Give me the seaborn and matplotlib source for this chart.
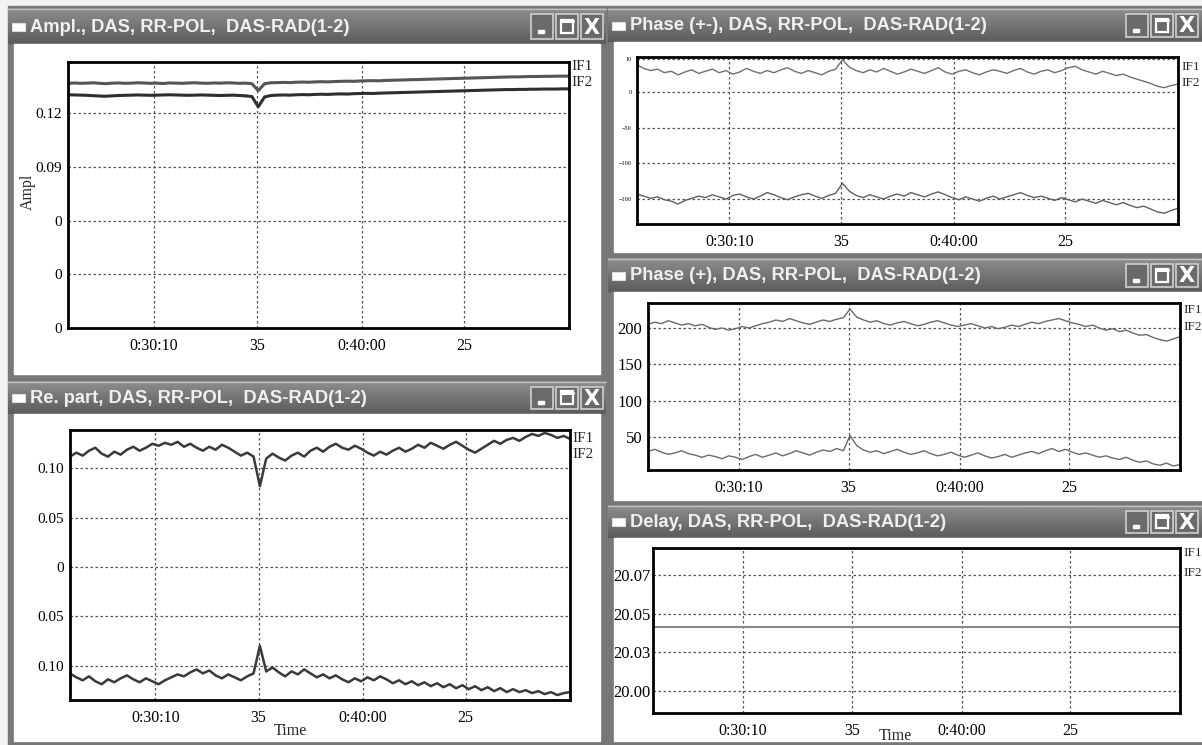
import numpy as np
import matplotlib
matplotlib.use("Agg")
import matplotlib.pyplot as plt
import seaborn as sns
from matplotlib.patches import Rectangle

# shared time axis: sample number, tick positions and labels
time_idx = list(range(80))
tick_pos = [13.5, 29.8, 46.3, 62.5]
tick_labels = ["0:30:10", "35", "0:40:00", "25"]

# Ampl. panel
ampl_if1 = [0.1365, 0.1368, 0.1366, 0.1367, 0.1369, 0.1366, 0.1364, 0.1367, 0.1368, 0.1366,
            0.1367, 0.1369, 0.1368, 0.1366, 0.1367, 0.1365, 0.1368, 0.1367, 0.1366, 0.1368,
            0.1369, 0.1367, 0.1366, 0.1368, 0.1367, 0.1369, 0.1368, 0.1366, 0.1367, 0.1364,
            0.1325, 0.1364, 0.1369, 0.1370, 0.1371, 0.1370, 0.1372, 0.1373, 0.1372, 0.1374,
            0.1375, 0.1374, 0.1376, 0.1377, 0.1378, 0.1377, 0.1379, 0.1380, 0.1381, 0.1380,
            0.1382, 0.1383, 0.1384, 0.1385, 0.1386, 0.1387, 0.1388, 0.1389, 0.1390, 0.1391,
            0.1392, 0.1393, 0.1394, 0.1395, 0.1396, 0.1397, 0.1398, 0.1399, 0.1400, 0.1401,
            0.1402, 0.1402, 0.1403, 0.1404, 0.1404, 0.1405, 0.1405, 0.1406, 0.1406, 0.1406]
ampl_if2 = [0.1302, 0.1301, 0.1300, 0.1299, 0.1297, 0.1295, 0.1294, 0.1296, 0.1298, 0.1299,
            0.1300, 0.1301, 0.1300, 0.1299, 0.1300, 0.1301, 0.1302, 0.1301, 0.1300, 0.1299,
            0.1300, 0.1301, 0.1300, 0.1299, 0.1298, 0.1299, 0.1300, 0.1298, 0.1296, 0.1292,
            0.1235, 0.1290, 0.1298, 0.1300, 0.1301, 0.1300, 0.1302, 0.1303, 0.1302, 0.1304,
            0.1305, 0.1304, 0.1306, 0.1307, 0.1306, 0.1308, 0.1309, 0.1310, 0.1309, 0.1311,
            0.1312, 0.1313, 0.1314, 0.1315, 0.1316, 0.1317, 0.1318, 0.1319, 0.1320, 0.1321,
            0.1322, 0.1323, 0.1324, 0.1325, 0.1326, 0.1327, 0.1328, 0.1329, 0.1330, 0.1331,
            0.1331, 0.1332, 0.1332, 0.1333, 0.1333, 0.1334, 0.1334, 0.1334, 0.1335, 0.1335]
ampl_yticks = [0.12, 0.09, 0.06, 0.03, 0.0]
ampl_ylabels = ["0.12", "0.09", "0", "0", "0"]

# Re. part panel
re_if1 = [0.112, 0.116, 0.113, 0.118, 0.121, 0.115, 0.112, 0.117, 0.114, 0.119,
          0.122, 0.118, 0.121, 0.125, 0.123, 0.126, 0.124, 0.127, 0.122, 0.125,
          0.121, 0.118, 0.122, 0.119, 0.124, 0.121, 0.117, 0.113, 0.116, 0.112,
          0.082, 0.110, 0.115, 0.111, 0.108, 0.113, 0.116, 0.112, 0.118, 0.121,
          0.117, 0.122, 0.125, 0.121, 0.119, 0.123, 0.120, 0.116, 0.113, 0.117,
          0.114, 0.118, 0.121, 0.117, 0.120, 0.124, 0.121, 0.126, 0.123, 0.120,
          0.124, 0.127, 0.123, 0.119, 0.116, 0.120, 0.124, 0.128, 0.125, 0.129,
          0.131, 0.128, 0.132, 0.135, 0.133, 0.136, 0.134, 0.131, 0.133, 0.130]
re_if2 = [-0.108, -0.112, -0.115, -0.111, -0.116, -0.119, -0.114, -0.117, -0.113, -0.110,
          -0.114, -0.117, -0.113, -0.116, -0.119, -0.115, -0.112, -0.109, -0.111, -0.107,
          -0.104, -0.108, -0.105, -0.110, -0.113, -0.109, -0.112, -0.115, -0.111, -0.108,
          -0.080, -0.106, -0.102, -0.107, -0.111, -0.106, -0.109, -0.104, -0.108, -0.112,
          -0.109, -0.113, -0.110, -0.114, -0.117, -0.113, -0.116, -0.112, -0.115, -0.111,
          -0.114, -0.118, -0.115, -0.119, -0.116, -0.120, -0.117, -0.121, -0.118, -0.122,
          -0.119, -0.123, -0.120, -0.124, -0.121, -0.125, -0.122, -0.126, -0.123, -0.127,
          -0.124, -0.127, -0.125, -0.128, -0.126, -0.129, -0.127, -0.130, -0.128, -0.127]
re_yticks = [0.10, 0.05, 0.0, -0.05, -0.10]
re_ylabels = ["0.10", "0.05", "0", "0.05", "0.10"]

# Phase (+-) panel
pm_if1 = [38, 33, 30, 32, 27, 29, 24, 28, 31, 26,
          29, 32, 27, 30, 25, 28, 33, 29, 26, 30,
          27, 31, 34, 29, 26, 30, 27, 24, 29, 32,
          45, 35, 30, 27, 31, 28, 33, 29, 25, 28,
          32, 29, 26, 30, 34, 28, 25, 29, 31, 27,
          24, 28, 31, 29, 26, 30, 33, 28, 25, 29,
          31, 27, 30, 34, 36, 31, 28, 25, 29, 26,
          23, 25, 21, 18, 15, 12, 8, 6, 9, 11]
pm_if2 = [-143, -146, -149, -147, -151, -153, -157, -152, -149, -146,
          -148, -144, -147, -150, -145, -143, -147, -150, -146, -141,
          -144, -148, -151, -147, -144, -142, -146, -149, -145, -142,
          -128, -139, -145, -148, -144, -147, -150, -146, -143, -146,
          -141, -144, -147, -143, -140, -144, -148, -151, -147, -150,
          -153, -149, -146, -150, -147, -144, -141, -145, -148, -146,
          -149, -152, -148, -151, -154, -150, -153, -156, -152, -155,
          -158, -155, -159, -162, -160, -164, -168, -170, -166, -163]
pm_yticks = [46, 0, -50, -100, -150]
pm_ylabels = ["10", "0", "\u221250", "\u2212100", "\u2212100"]

# Phase (+) panel
p_if1 = [205, 208, 206, 210, 207, 204, 206, 203, 205, 201,
         198, 200, 197, 199, 202, 200, 203, 206, 208, 211,
         209, 213, 210, 207, 205, 208, 211, 209, 212, 214,
         226, 215, 211, 208, 210, 206, 204, 207, 209, 206,
         203, 205, 208, 210, 207, 204, 202, 204, 206, 203,
         200, 202, 199, 201, 204, 202, 205, 208, 206, 209,
         211, 213, 210, 207, 205, 202, 204, 200, 197, 199,
         195, 197, 193, 190, 191, 187, 184, 182, 185, 188]
p_if2 = [30, 33, 29, 26, 28, 31, 27, 25, 22, 25,
         23, 20, 24, 22, 19, 23, 26, 22, 25, 28,
         24, 27, 31, 28, 25, 29, 32, 30, 34, 31,
         52, 38, 32, 29, 31, 27, 30, 33, 29, 26,
         28, 31, 27, 24, 26, 29, 25, 22, 25, 28,
         24, 21, 23, 26, 22, 25, 28, 30, 27, 31,
         34, 30, 33, 29, 26, 28, 25, 22, 24, 21,
         19, 22, 18, 15, 17, 13, 11, 14, 10, 12]
p_yticks = [200, 150, 100, 50]
p_ylabels = ["200", "150", "100", "50"]

# Delay panel
delay_t = [0, 79]
delay_val = [20.043, 20.043]
delay_yticks = [20.07, 20.05, 20.03, 20.01]
delay_ylabels = ["20.07", "20.05", "20.03", "20.00"]

sns.set_theme(style="white")
plt.rcParams["font.family"] = ["Liberation Serif", "DejaVu Serif"]

W, H = 1202, 745
fig = plt.figure(figsize=(W / 100, H / 100), dpi=100)
fig.patch.set_facecolor("#f2f2f2")

# background axes in pixel units for the window chrome
bg = fig.add_axes([0, 0, 1, 1], zorder=0)
bg.axis("off")
bg.add_patch(Rectangle((8, 6), W - 8, H - 6, color="#777777", zorder=0))


def bar_gradient(top, bottom):
    c0 = np.array(matplotlib.colors.to_rgb(top))
    c1 = np.array(matplotlib.colors.to_rgb(bottom))
    f = np.linspace(0, 1, 32)[:, None, None]
    return c0 * (1 - f) + c1 * f


def window(x0, x1, y0, ybar, y1, title):
    # title bar
    bg.imshow(bar_gradient("#8e8e8e", "#5c5c5c"), extent=(x0, x1, ybar, y0),
              aspect="auto", zorder=1, interpolation="bilinear")
    bg.plot([x0, x1], [y0 + 0.5, y0 + 0.5], color="#c0c0c0", lw=1, zorder=2)
    # content area
    bg.add_patch(Rectangle((x0 + 6, ybar), x1 - x0 - 12, y1 - ybar, color="white", zorder=1))
    # small icon and caption
    yc = (y0 + ybar) / 2 + 1
    bg.add_patch(Rectangle((x0 + 4, yc - 4.5), 13, 8, facecolor="white",
                           edgecolor="#dddddd", lw=0.8, zorder=2))
    bg.text(x0 + 22, yc, title, color="#f0f0f0", fontsize=13.2, fontweight="bold",
            family=["Liberation Sans Narrow", "Liberation Sans", "DejaVu Sans"],
            va="center", ha="left", zorder=3)
    # minimise / maximise / close buttons
    bw, gap = 22, 3
    bx = x1 - 3 - 3 * bw - 2 * gap
    if x1 >= W:
        bx = W - 4 - 3 * bw - 2 * gap
    for k in range(3):
        xb = bx + k * (bw + gap)
        bg.add_patch(Rectangle((xb, y0 + 6), bw, ybar - y0 - 11, facecolor="#6a6a6a",
                               edgecolor="#d0d0d0", lw=1.2, zorder=2))
        cx, cy = xb + bw / 2, y0 + 6 + (ybar - y0 - 11) / 2
        if k == 0:
            bg.add_patch(Rectangle((cx - 4, cy + 3), 6, 3, color="white", zorder=3))
        elif k == 1:
            bg.add_patch(Rectangle((cx - 6, cy - 7), 12, 13, facecolor="none",
                                   edgecolor="white", lw=1.6, zorder=3))
            bg.plot([cx - 6, cx + 6], [cy - 5.5, cy - 5.5], color="white", lw=2.2, zorder=3)
        else:
            bg.text(cx, cy + 1, "X", color="white", fontsize=15, fontweight="bold",
                    family="DejaVu Sans", ha="center", va="center", zorder=3)


window(8, 606, 8, 44, 374, "Ampl., DAS, RR-POL,  DAS-RAD(1-2)")
window(8, 606, 381, 414, 741, "Re. part, DAS, RR-POL,  DAS-RAD(1-2)")
window(608, W + 6, 8, 42, 252, "Phase (+-), DAS, RR-POL,  DAS-RAD(1-2)")
window(608, W + 6, 258, 292, 500, "Phase (+), DAS, RR-POL,  DAS-RAD(1-2)")
window(608, W + 6, 505, 538, 741, "Delay, DAS, RR-POL,  DAS-RAD(1-2)")

bg.set_xlim(0, W)
bg.set_ylim(H, 0)


def panel(l, t, r, b, ylim, yticks, ylabels, ysize=11, xsize=11.5):
    ax = fig.add_axes([l / W, 1 - b / H, (r - l) / W, (b - t) / H], zorder=3)
    ax.set_facecolor("white")
    return ax, (ylim, yticks, ylabels, ysize, xsize)


def finish(ax, cfg):
    ylim, yticks, ylabels, ysize, xsize = cfg
    ax.set_xlim(0, 79)
    ax.set_ylim(*ylim)
    ax.set_xticks(tick_pos, tick_labels)
    ax.set_yticks(yticks, ylabels)
    ax.tick_params(axis="x", length=0, pad=7, labelsize=xsize, colors="black")
    ax.tick_params(axis="y", length=0, pad=4, labelsize=ysize, colors="black")
    ax.grid(True, linestyle=(0, (2, 2)), color="#555555", lw=0.9)
    for s in ax.spines.values():
        s.set_visible(True)
        s.set_linewidth(2)
        s.set_color("black")
    ax.set_xlabel("")
    ax.set_ylabel("")


# Ampl.
ax, cfg = panel(68, 62, 569, 328, (0, 0.1485), ampl_yticks, ampl_ylabels)
sns.lineplot(x=time_idx, y=ampl_if1, ax=ax, color="#555555", lw=2.2)
sns.lineplot(x=time_idx, y=ampl_if2, ax=ax, color="#2e2e2e", lw=2.2)
finish(ax, cfg)
bg.text(28, 192, "Ampl", rotation=90, fontsize=11.5, ha="center", va="center")
bg.text(571, 66, "IF1", fontsize=11, va="center")
bg.text(571, 82, "IF2", fontsize=11, va="center")

# Re. part
ax, cfg = panel(70, 430, 570, 700, (-0.135, 0.139), re_yticks, re_ylabels)
sns.lineplot(x=time_idx, y=re_if1, ax=ax, color="#3a3a3a", lw=1.8)
sns.lineplot(x=time_idx, y=re_if2, ax=ax, color="#3a3a3a", lw=1.8)
finish(ax, cfg)
bg.text(290, 731, "Time", fontsize=11.5, ha="center", va="center")
bg.text(572, 438, "IF1", fontsize=11, va="center")
bg.text(572, 455, "IF2", fontsize=11, va="center")

# Phase (+-)
ax, cfg = panel(637, 57, 1178, 224, (-185, 49), pm_yticks, pm_ylabels, ysize=4.5)
sns.lineplot(x=time_idx, y=pm_if1, ax=ax, color="#707070", lw=1.0)
sns.lineplot(x=time_idx, y=pm_if2, ax=ax, color="#606060", lw=1.0)
finish(ax, cfg)
bg.text(1181, 67, "IF1", fontsize=9.5, va="center")
bg.text(1181, 83, "IF2", fontsize=9.5, va="center")

# Phase (+)
ax, cfg = panel(648, 303, 1180, 470, (4.5, 234.4), p_yticks, p_ylabels, ysize=12)
sns.lineplot(x=time_idx, y=p_if1, ax=ax, color="#6a6a6a", lw=1.0)
sns.lineplot(x=time_idx, y=p_if2, ax=ax, color="#6a6a6a", lw=1.0)
finish(ax, cfg)
bg.text(1183, 310, "IF1", fontsize=9.5, va="center")
bg.text(1183, 327, "IF2", fontsize=9.5, va="center")

# Delay
ax, cfg = panel(653, 548, 1180, 713, (19.9986, 20.084), delay_yticks, delay_ylabels, ysize=12)
sns.lineplot(x=delay_t, y=delay_val, ax=ax, color="#888888", lw=1.5)
finish(ax, cfg)
ax.tick_params(axis="y", pad=2)
bg.text(895, 736, "Time", fontsize=11.5, ha="center", va="center")
bg.text(1183, 553, "IF1", fontsize=9.5, va="center")
bg.text(1183, 573, "IF2", fontsize=9.5, va="center")

fig.savefig("out.png", dpi=100)
